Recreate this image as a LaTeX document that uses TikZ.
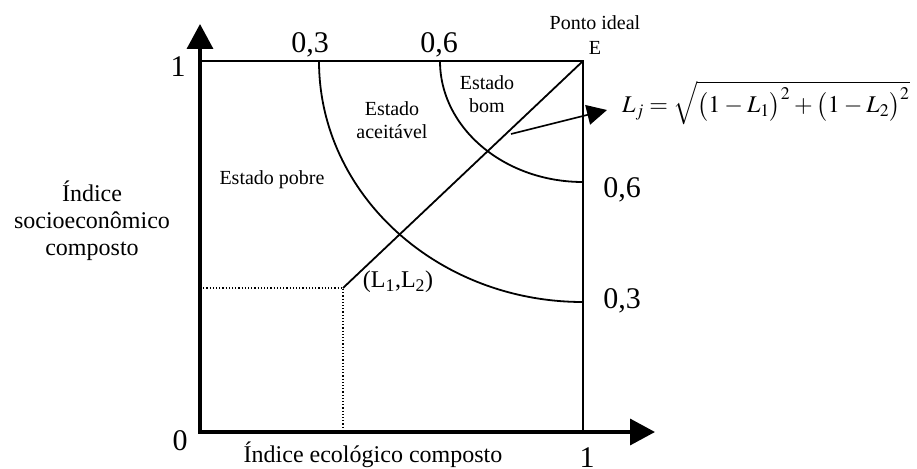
\documentclass[tikz,border=0pt]{standalone}
\usepackage{mathptmx}
\usepackage{fontspec}
\setmainfont{Liberation Serif}
\usetikzlibrary{arrows.meta}
\begin{document}
\begin{tikzpicture}[x=1pt,y=1pt,
  lab/.style={font=\fontsize{20}{23}\selectfont, inner sep=0pt, align=center},
  ttl/.style={font=\fontsize{24}{27}\selectfont, inner sep=0pt, align=center},
  num/.style={font=\fontsize{30}{36}\selectfont, inner sep=0pt, anchor=base},
  axisline/.style={line width=3.5pt, {Triangle[length=25pt,width=26pt]}-{Triangle[length=25pt,width=26pt]}},
  frame/.style={line width=1.8pt},
  curve/.style={line width=1.8pt},
  guide/.style={dotted, line width=1.2pt},
  pointer/.style={line width=1.6pt, -{Triangle[length=20pt,width=20pt]}}]
\useasboundingbox (0,0) rectangle (917,-468);
% coordinates
\coordinate (O) at (200,-432);
\coordinate (Ytip) at (200,-24);
\coordinate (Xtip) at (655,-432);
\coordinate (TL) at (200,-61);
\coordinate (E) at (583,-61);
\coordinate (BR) at (583,-432);
\coordinate (P) at (343,-288);
\coordinate (PL) at (200,-288);
\coordinate (PB) at (343,-432);
\coordinate (A3) at (319,-61);
\coordinate (A6) at (440,-61);
\coordinate (AS) at (511,-134);
\coordinate (AT) at (607,-110);
% frame and axes
\draw[frame] (TL) -- (E) -- (BR);
\draw[axisline] (Ytip) -- (O) -- (Xtip);
% arcs
\draw[curve] (A3) arc[start angle=180, end angle=270, x radius=264, y radius=241];
\draw[curve] (A6) arc[start angle=180, end angle=270, x radius=143, y radius=121];
% diagonal and guides
\draw[curve] (P) -- (E);
\draw[guide] (PL) -- (P) -- (PB);
\draw[pointer] (AS) -- (AT);
% numbers
\node[num] (n1l) at (178,-77) {1};
\node[num] (n0) at (180,-450) {0};
\node[num] (t03) at (310,-53) {0,3};
\node[num] (t06) at (439,-53) {0,6};
\node[num] (r06) at (622,-197) {0,6};
\node[num] (r03) at (622,-308) {0,3};
\node[num] (n1b) at (587,-467) {1};
% labels
\node[lab] (pi) at (595,-23) {Ponto ideal};
\node[lab] (lE) at (595,-48) {E};
\node[lab] (bom) at (487,-94) {Estado\\bom};
\node[lab] (ace) at (392,-120) {Estado\\aceitável};
\node[lab] (pob) at (272,-180) {Estado pobre};
\node[ttl] (ysoc) at (92,-221) {Índice\\socioeconômico\\composto};
\node[ttl, anchor=base] (xeco) at (373,-462) {Índice ecológico composto};
\node[ttl] (pt) at (398,-282) {(L\textsubscript{1},L\textsubscript{2})};
\node[anchor=base west, inner sep=0pt, font=\fontsize{24}{29}\selectfont] (frm) at (622,-113)
  {\medmuskip=3mu \thickmuskip=4mu $L_{j} = \sqrt{\bigl(1-L_{1}\bigr)^{2}+\bigl(1-L_{2}\bigr)^{2}}$};
\end{tikzpicture}
\end{document}
